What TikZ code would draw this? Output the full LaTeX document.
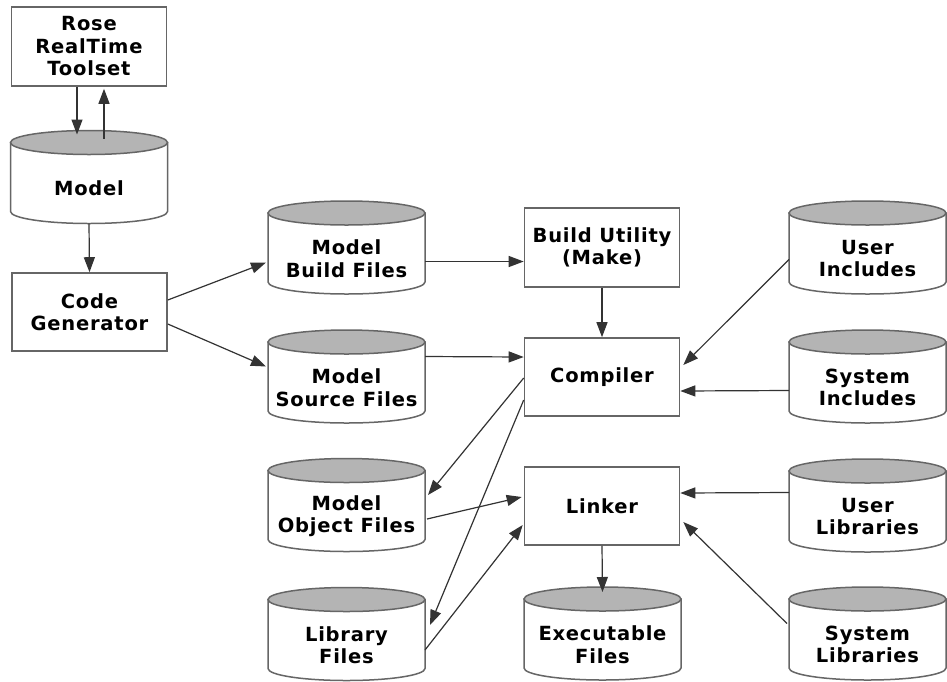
\documentclass[tikz,border=0pt]{standalone}
\usepackage{fontspec}
\usetikzlibrary{arrows.meta,calc}
\newfontfamily\lblfont{DejaVu Sans}[LetterSpace=4]
\newcommand\dbcyl[4]{%
  \path[cylside] (#2-78.5,#3-34.5) -- (#2-78.5,#3+34.5)
    arc[start angle=180,end angle=0,x radius=78.5,y radius=12]
    -- (#2+78.5,#3-34.5) -- cycle;
  \path[cyltop] (#2,#3-34.5) ellipse[x radius=78.5,y radius=12];
  \node[cylframe] (#1) at (#2,#3) {};
  \node[lbl] (#1t) at (#2,#3+11) {#4};
}
\begin{document}
\begin{tikzpicture}[x=1pt,y=-1pt,
  lbl/.style={font=\lblfont\bfseries\fontsize{19.5}{22.5}\selectfont, align=center, inner sep=0pt},
  boxnode/.style={lbl, draw=black!60, line width=1.6pt, fill=white, minimum width=155pt, minimum height=78pt},
  cylframe/.style={draw=none, minimum width=157pt, minimum height=93pt, inner sep=0pt, outer sep=0pt},
  cylside/.style={draw=black!60, line width=1.5pt, fill=white},
  cyltop/.style={draw=black!60, line width=1.5pt, fill={rgb,255:red,180;green,180;blue,180}},
  conn/.style={draw=black!80, line width=1.2pt, -{Triangle[length=15pt,width=11pt]}},
]
\fill[white] (0,0) rectangle (947,681);
\useasboundingbox (0,0) rectangle (947,681);

% boxes
\node[boxnode, minimum height=79pt] (rose) at (89,46.5) {Rose\\RealTime\\Toolset};
\node[boxnode] (cg) at (89.5,312) {Code\\Generator};
\node[boxnode, minimum height=79pt] (bu) at (602,247.5) {Build Utility\\(Make)};
\node[boxnode] (comp) at (602,377) {Compiler};
\node[boxnode] (linker) at (602,506) {Linker};

% cylinders
\dbcyl{model}{89}{177}{Model}
\dbcyl{mbf}{346.5}{247.5}{Model\\Build Files}
\dbcyl{msf}{346.5}{376.5}{Model\\Source Files}
\dbcyl{mof}{346.5}{505}{Model\\Object Files}
\dbcyl{lf}{346.5}{634}{Library\\Files}
\dbcyl{ef}{602.5}{633.5}{Executable\\Files}
\dbcyl{ui}{867.5}{247.5}{User\\Includes}
\dbcyl{si}{867.5}{376.5}{System\\Includes}
\dbcyl{ul}{867.5}{505.5}{User\\Libraries}
\dbcyl{sl}{867.5}{633.5}{System\\Libraries}

% connectors
\draw[conn] ($(rose.south)+(-12,0)$) -- ($(model.north)+(-12,4)$);
\draw[conn] ($(model.north)+(15,8)$) -- ($(rose.south)+(15,2)$);
\draw[conn] (model.south) -- (cg.north);
\draw[conn] ($(cg.east)+(0,-12)$) -- ($(mbf.west)+(-2,15)$);
\draw[conn] ($(cg.east)+(0,12)$) -- ($(msf.west)+(-2,-10)$);
\draw[conn] ($(mbf.east)+(0,14)$) -- ($(bu.west)+(0,14)$);
\draw[conn] ($(msf.east)+(0,-20)$) -- ($(comp.west)+(0,-20)$);
\draw[conn] (bu.south) -- (comp.north);
\draw[conn] ($(ui.west)+(0,12)$) -- ($(comp.east)+(3,-12)$);
\draw[conn] ($(si.west)+(0,14)$) -- ($(comp.east)+(0,14)$);
\draw[conn] ($(comp.west)+(0,1)$) -- ($(mof.east)+(3,-10)$);
\draw[conn] ($(comp.west)+(0,23)$) -- ($(lf.east)+(5,-9)$);
\draw[conn] ($(mof.east)+(2,14)$) -- ($(linker.west)+(-2,-9)$);
\draw[conn] ($(lf.east)+(0,16)$) -- ($(linker.west)+(-1,19)$);
\draw[conn] (linker.south) -- ($(ef.north)+(0,5)$);
\draw[conn] ($(ul.west)+(0,-13)$) -- ($(linker.east)+(0,-13)$);
\draw[conn] ($(sl.west)+(-2,-10)$) -- ($(linker.east)+(3,16)$);
\end{tikzpicture}
\end{document}
